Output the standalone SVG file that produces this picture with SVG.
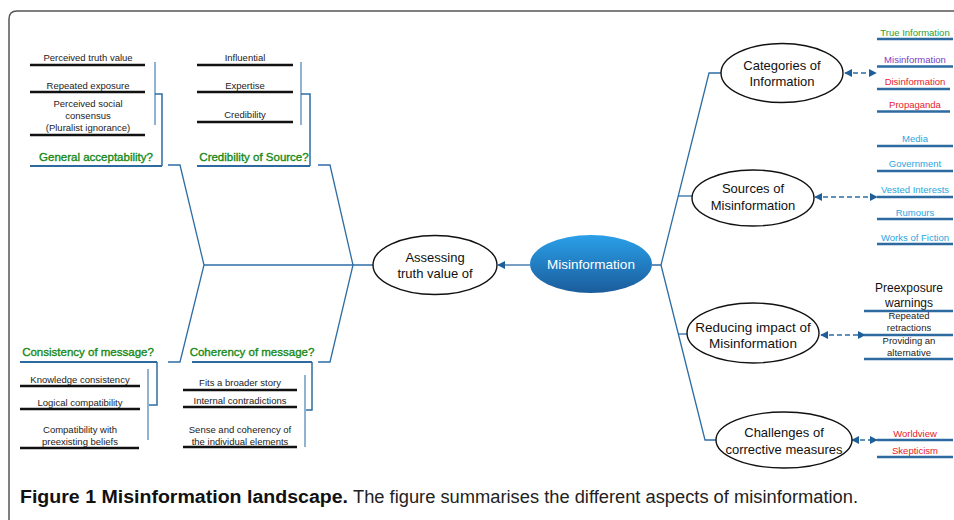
<svg xmlns="http://www.w3.org/2000/svg" width="954" height="520" viewBox="0 0 954 520">
<defs>
<linearGradient id="gBlue" x1="0" y1="0" x2="0" y2="1">
<stop offset="0" stop-color="#2aa0e8"/>
<stop offset="1" stop-color="#1a5c9c"/>
</linearGradient>
<marker id="ah" viewBox="0 0 10 10" refX="9" refY="5" markerWidth="8" markerHeight="8" orient="auto-start-reverse" markerUnits="userSpaceOnUse">
<path d="M0,0 L10,5 L0,10 z" fill="#1f5f99"/>
</marker>
<style>
.conn{fill:none;stroke:#2e6da4;stroke-width:1.3}
.dash{fill:none;stroke:#2e6da4;stroke-width:1.5;stroke-dasharray:5,3}
.brk{fill:none;stroke:#2e6da4;stroke-width:1.5}
.lt{fill:none;stroke:#8fb3d0;stroke-width:2}
.ul{stroke:#2d6aa0;stroke-width:2.2}
.bl{stroke:#111;stroke-width:2.5}
.rl{stroke:#2d6aa0;stroke-width:2.5}
.ell{fill:#fff;stroke:#111;stroke-width:1.4}
text{font-family:"Liberation Sans",Arial,sans-serif}
.n{font-size:13px;fill:#111;text-anchor:middle}
.it{font-size:9.5px;fill:#222;text-anchor:middle}
.hd{font-size:11.5px;fill:#178a17;stroke:#178a17;stroke-width:0.35;text-anchor:middle}
.ri{font-size:9.5px;text-anchor:middle}
</style>
</defs>
<rect width="954" height="520" fill="#fff"/>
<path d="M9,520 L9,19 Q9,11 17,11 L954,11" fill="none" stroke="#555" stroke-width="1.5"/>

<g id="connectors">
<line class="conn" x1="530" y1="265" x2="498" y2="265" marker-end="url(#ah)"/>
<polyline class="conn" points="652,265 661,265 709,73 721,73"/>
<polyline class="conn" points="661,265 705,440 716,440"/>
<line class="conn" x1="678" y1="196" x2="692" y2="196"/>
<line class="conn" x1="678" y1="334" x2="687" y2="334"/>
<line class="conn" x1="373" y1="265" x2="204" y2="265"/>
<polyline class="conn" points="318,165 330,165 353,265 330,362 318,362"/>
<polyline class="conn" points="168,165 180,165 204,265 180,362 168,362"/>
<line class="dash" x1="845" y1="73" x2="876" y2="73" marker-start="url(#ah)" marker-end="url(#ah)"/>
<line class="dash" x1="815" y1="197" x2="877" y2="197" marker-start="url(#ah)" marker-end="url(#ah)"/>
<line class="dash" x1="821" y1="335" x2="865" y2="335" marker-start="url(#ah)" marker-end="url(#ah)"/>
<line class="dash" x1="852" y1="440" x2="877" y2="440" marker-start="url(#ah)" marker-end="url(#ah)"/>
</g>

<g id="misinformation">
<ellipse cx="591" cy="264" rx="61" ry="29" fill="url(#gBlue)"/>
<text x="591" y="269" class="n" style="fill:#fff;font-size:13.5px">Misinformation</text>
</g>

<g id="assessing">
<ellipse class="ell" cx="435" cy="265" rx="62" ry="29.5"/>
<text x="435" y="262" class="n">Assessing</text>
<text x="435" y="278" class="n">truth value of</text>
</g>

<g id="categories">
<ellipse class="ell" cx="782" cy="73" rx="61" ry="29.5"/>
<text x="782" y="70" class="n">Categories of</text>
<text x="782" y="86" class="n">Information</text>
</g>

<g id="sources">
<ellipse class="ell" cx="753" cy="198" rx="61" ry="28"/>
<text x="753" y="193" class="n">Sources of</text>
<text x="753" y="210" class="n">Misinformation</text>
</g>

<g id="reducing">
<ellipse class="ell" cx="753" cy="333" rx="66" ry="30"/>
<text x="753" y="332" class="n" style="font-size:13.5px">Reducing  impact of</text>
<text x="753" y="348" class="n" style="font-size:13.5px">Misinformation</text>
</g>

<g id="challenges">
<ellipse class="ell" cx="784" cy="440" rx="68" ry="28"/>
<text x="784" y="437" class="n">Challenges of</text>
<text x="784" y="454" class="n">corrective measures</text>
</g>

<g id="categories-list">
<text x="915" y="35.5" class="ri" fill="#2e9e2e">True Information</text>
<line class="rl" x1="877" y1="39" x2="953" y2="39"/>
<text x="915" y="62.5" class="ri" fill="#7a40c0">Misinformation</text>
<line class="rl" x1="877" y1="66.5" x2="953" y2="66.5"/>
<text x="915" y="85" class="ri" fill="#e8202a">Disinformation</text>
<line class="rl" x1="877" y1="89" x2="950" y2="89"/>
<text x="915" y="107.5" class="ri" fill="#e8202a">Propaganda</text>
<line class="rl" x1="877" y1="111.5" x2="950" y2="111.5"/>
</g>

<g id="sources-list">
<text x="915" y="141.5" class="ri" fill="#2aa6e0">Media</text>
<line class="rl" x1="877" y1="146" x2="953" y2="146"/>
<text x="915" y="166.5" class="ri" fill="#2aa6e0">Government</text>
<line class="rl" x1="877" y1="171" x2="953" y2="171"/>
<text x="915" y="192.5" class="ri" fill="#2aa6e0">Vested Interests</text>
<line class="rl" x1="877" y1="197" x2="953" y2="197"/>
<text x="915" y="215.5" class="ri" fill="#2aa6e0">Rumours</text>
<line class="rl" x1="877" y1="219" x2="953" y2="219"/>
<text x="915" y="240.5" class="ri" fill="#2aa6e0">Works of Fiction</text>
<line class="rl" x1="877" y1="244" x2="953" y2="244"/>
</g>

<g id="reducing-list">
<text x="909" y="292" class="ri" fill="#111" style="font-size:12px">Preexposure</text>
<text x="909" y="307" class="ri" fill="#111" style="font-size:12px">warnings</text>
<line class="rl" x1="864" y1="311" x2="953" y2="311"/>
<text x="909" y="318.5" class="ri" fill="#222" style="font-size:9.5px">Repeated</text>
<text x="909" y="331" class="ri" fill="#222" style="font-size:9.5px">retractions</text>
<line class="rl" x1="864" y1="335" x2="953" y2="335"/>
<text x="909" y="343.5" class="ri" fill="#222" style="font-size:9.5px">Providing an</text>
<text x="909" y="355.5" class="ri" fill="#222" style="font-size:9.5px">alternative</text>
<line class="rl" x1="864" y1="359" x2="953" y2="359"/>
</g>

<g id="challenges-list">
<text x="915" y="436.5" class="ri" fill="#e8202a">Worldview</text>
<line class="rl" x1="877" y1="440" x2="953" y2="440"/>
<text x="915" y="453.5" class="ri" fill="#e8202a">Skepticism</text>
<line class="rl" x1="877" y1="457" x2="953" y2="457"/>
</g>

<g id="general-acceptability">
<text x="88" y="60.5" class="it">Perceived truth value</text>
<line class="bl" x1="30" y1="65" x2="145" y2="65"/>
<text x="88" y="88.5" class="it">Repeated exposure</text>
<line class="bl" x1="30" y1="92" x2="145" y2="92"/>
<text x="88" y="107" class="it">Perceived social</text>
<text x="88" y="119" class="it">consensus</text>
<text x="88" y="131" class="it">(Pluralist ignorance)</text>
<line class="bl" x1="30" y1="135" x2="145" y2="135"/>
<line class="lt" x1="155" y1="62" x2="155" y2="125"/>
<polyline class="brk" points="155,94 162,94 162,166"/>
<line class="ul" x1="30" y1="166" x2="162" y2="166"/>
<text x="96" y="161" class="hd">General acceptability?</text>
</g>

<g id="credibility-of-source">
<text x="245" y="60.5" class="it">Influential</text>
<line class="bl" x1="197" y1="65" x2="293" y2="65"/>
<text x="245" y="88.5" class="it">Expertise</text>
<line class="bl" x1="197" y1="92" x2="293" y2="92"/>
<text x="245" y="118" class="it">Credibility</text>
<line class="bl" x1="197" y1="122" x2="293" y2="122"/>
<line class="lt" x1="301" y1="62" x2="301" y2="125"/>
<polyline class="brk" points="301,94 310,94 310,166"/>
<line class="ul" x1="197" y1="166" x2="310" y2="166"/>
<text x="254" y="161" class="hd">Credibility of Source?</text>
</g>

<g id="consistency-of-message">
<text x="88" y="356" class="hd">Consistency of message?</text>
<line class="ul" x1="20" y1="362" x2="157" y2="362"/>
<polyline class="brk" points="157,362 157,405 148,405"/>
<line class="lt" x1="148" y1="369" x2="148" y2="440"/>
<text x="80" y="382.5" class="it">Knowledge consistency</text>
<line class="bl" x1="20" y1="386" x2="140" y2="386"/>
<text x="80" y="405.5" class="it">Logical compatibility</text>
<line class="bl" x1="20" y1="409" x2="140" y2="409"/>
<text x="80" y="432.5" class="it">Compatibility with</text>
<text x="80" y="444.5" class="it">preexisting beliefs</text>
<line class="bl" x1="20" y1="448" x2="139" y2="448"/>
</g>

<g id="coherency-of-message">
<text x="252" y="356" class="hd">Coherency of message?</text>
<line class="ul" x1="192" y1="362" x2="312" y2="362"/>
<polyline class="brk" points="312,362 312,410 305,410"/>
<line class="lt" x1="305" y1="375" x2="305" y2="447"/>
<text x="240" y="385.5" class="it">Fits a broader story</text>
<line class="bl" x1="183" y1="390" x2="297" y2="390"/>
<text x="240" y="403.5" class="it">Internal contradictions</text>
<line class="bl" x1="183" y1="407" x2="297" y2="407"/>
<text x="240" y="432.5" class="it">Sense and coherency of</text>
<text x="240" y="444.5" class="it">the individual elements</text>
<line class="bl" x1="183" y1="447" x2="297" y2="447"/>
</g>

<g id="caption">
<text x="20" y="503" font-size="18" font-weight="bold" fill="#111" textLength="328" lengthAdjust="spacingAndGlyphs">Figure 1 Misinformation landscape.</text>
<text x="353" y="503" font-size="18" fill="#222" textLength="505" lengthAdjust="spacingAndGlyphs">The figure summarises the different aspects of misinformation.</text>
</g>
</svg>
